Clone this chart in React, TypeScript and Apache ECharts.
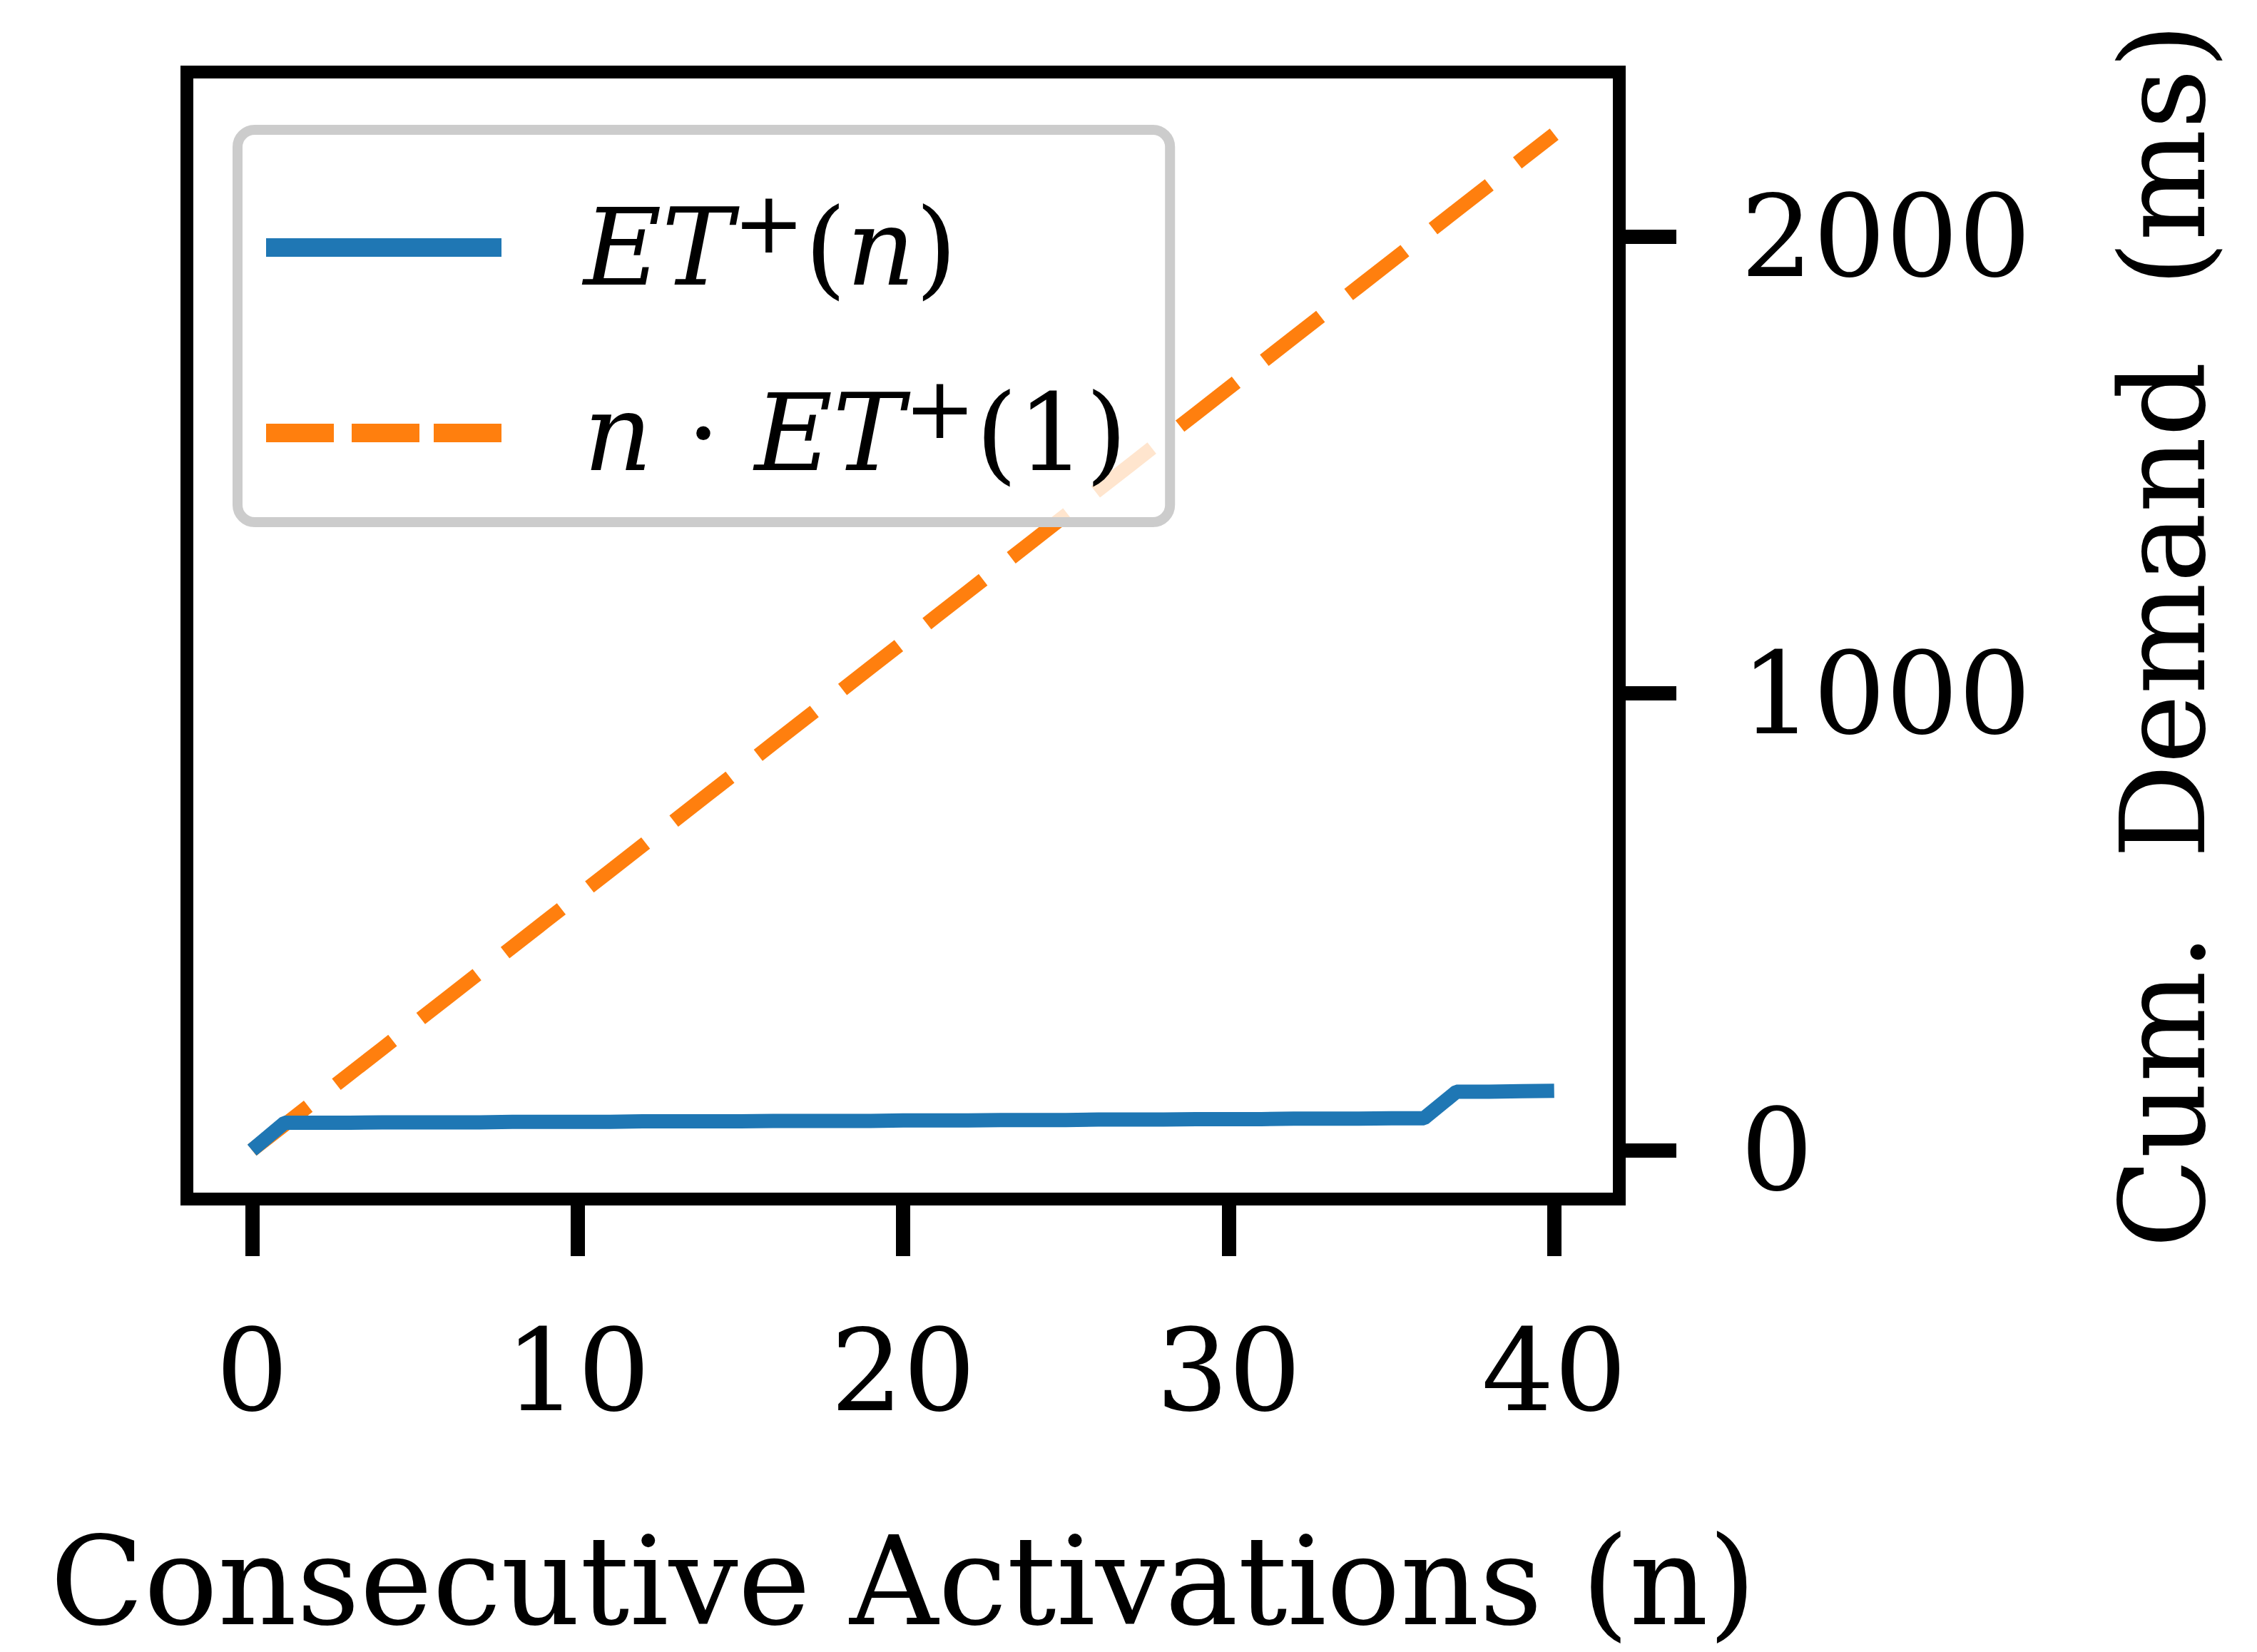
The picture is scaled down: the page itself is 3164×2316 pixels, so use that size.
import { useEffect, useRef } from "react";
import * as echarts from "echarts";

const activations = Array.from({ length: 41 }, (_, i) => i);
// cumulative worst-case demand ET+(n), ms
const etPlus = [
  0, 60, 60, 60, 61, 61, 61, 61, 62, 62, 62, 62, 63, 63, 63, 63, 64, 64, 64, 64, 65,
  65, 65, 66, 66, 66, 67, 67, 67, 68, 68, 68, 69, 69, 69, 70, 70, 128, 128, 129, 130,
];
const perActivation = 55.6;
const linearBound = activations.map((n) => n * perActivation);
const xTicks = [0, 10, 20, 30, 40];
const yTicks = [0, 1000, 2000];

const FONT = "'DejaVu Serif', 'Liberation Serif', serif";
const rich = {
  i: { fontFamily: FONT, fontStyle: "italic" as const, fontSize: 150, color: "#000" },
  r: { fontFamily: FONT, fontSize: 150, color: "#000" },
  s: { fontFamily: FONT, fontSize: 120, color: "#000", verticalAlign: "top" as const, padding: [0, 0, 70, 0] },
};

export default function App() {
  const ref = useRef<HTMLDivElement>(null);

  useEffect(() => {
    if (!ref.current) return;
    const chart = echarts.init(ref.current, undefined, { renderer: "svg" });
    chart.setOption({
      animation: false,
      backgroundColor: "#fff",
      grid: {
        left: 262, top: 101, width: 2008, height: 1580,
        show: true, borderColor: "#000", borderWidth: 18, backgroundColor: "transparent",
      },
      legend: {
        left: 333, top: 182, orient: "vertical",
        backgroundColor: "rgba(255,255,255,0.8)",
        borderColor: "#ccc", borderWidth: 14, borderRadius: 24,
        padding: [70, 60, 50, 40], itemGap: 90,
        itemWidth: 330, itemHeight: 26,
        textStyle: { rich, padding: [0, 0, 0, 110] },
        formatter: (name: string) =>
          name === "et"
            ? "{i|ET}{s|+}{r|(}{i|n}{r|)}"
            : "{i|n}{r| · }{i|ET}{s|+}{r|(1)}",
        data: [
          { name: "et", icon: "path://M0 0h330v26h-330z" },
          { name: "lin", icon: "path://M0 0h95v26h-95zM120 0h95v26h-95zM235 0h95v26h-95z" },
        ],
      },
      xAxis: {
        type: "value", min: -2, max: 42,
        name: "Consecutive Activations (n)", nameLocation: "middle", nameGap: 450,
        nameTextStyle: { fontFamily: FONT, fontSize: 172, color: "#000" },
        axisLine: { show: false, onZero: false },
        splitLine: { show: false },
        axisTick: { show: true, length: 80, customValues: xTicks, lineStyle: { color: "#000", width: 20 } },
        axisLabel: { customValues: xTicks, margin: 160, fontFamily: FONT, fontSize: 160, color: "#000" },
      },
      yAxis: {
        type: "value", position: "right", min: -107, max: 2360,
        name: "Cum.  Demand  (ms)", nameLocation: "middle", nameGap: 680,
        nameTextStyle: { fontFamily: FONT, fontSize: 165, color: "#000" },
        axisLine: { show: false, onZero: false },
        splitLine: { show: false },
        axisTick: { show: true, length: 80, customValues: yTicks, lineStyle: { color: "#000", width: 20 } },
        axisLabel: {
          customValues: yTicks, margin: 170, fontFamily: FONT, fontSize: 160, color: "#000",
          formatter: (v: number) => String(v),
        },
      },
      series: [
        {
          name: "et", type: "line", showSymbol: false, z: 3,
          data: activations.map((n, i) => [n, etPlus[i]]),
          lineStyle: { color: "#1f77b4", width: 20 }, itemStyle: { color: "#1f77b4" },
        },
        {
          name: "lin", type: "line", showSymbol: false, z: 2,
          data: activations.map((n, i) => [n, linearBound[i]]),
          lineStyle: { color: "#ff7f0e", width: 20, type: [100, 50] }, itemStyle: { color: "#ff7f0e" },
        },
      ],
    });
    return () => chart.dispose();
  }, []);

  return <div ref={ref} style={{ position: "fixed", left: 0, top: 0, width: 3164, height: 2316 }} />;
}
